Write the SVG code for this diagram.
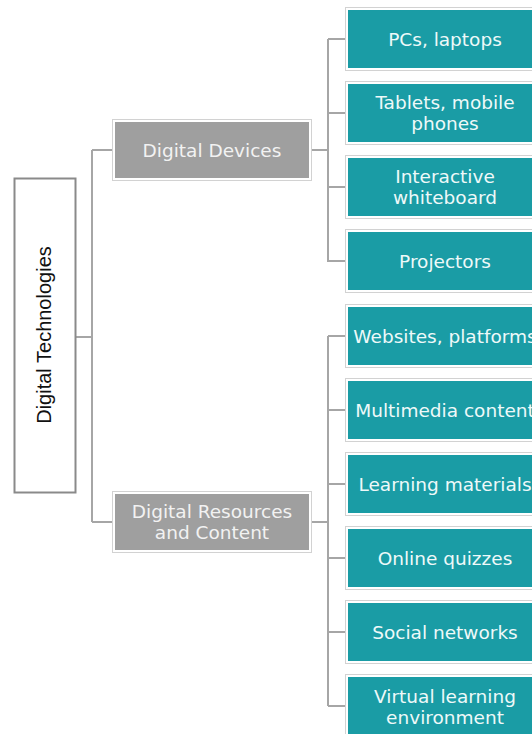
<svg xmlns="http://www.w3.org/2000/svg" width="532" height="734" viewBox="0 0 532 734">
  <style>
    .link { fill: none; stroke: #a6a6a6; stroke-width: 2; }
    .halo { fill: #ffffff; stroke: #d2d2d2; stroke-width: 1; }
    .grey { fill: #9f9f9f; }
    .teal { fill: #1a9ca5; }
    .lbl { font-family: "DejaVu Sans", Verdana, sans-serif; font-size: 18.5px; text-anchor: middle; dominant-baseline: central; }
    .lbl-g { fill: #f2f2f2; }
    .lbl-t { fill: #eef9f9; }
    .root-lbl { font-family: "Liberation Sans", Arial, sans-serif; font-size: 20px; fill: #111111; text-anchor: middle; }
  </style>

  <!-- connectors -->
  <g id="connectors">
    <path class="link" d="M76 337 H92 M92 150 V522 M92 150 H113 M92 522 H113"/>
    <path class="link" d="M311 150 H328 M328 39 V262 M328 39 H345 M328 113 H345 M328 187 H345 M328 261 H345"/>
    <path class="link" d="M311 522 H328 M328 336 V706 M328 336 H345 M328 410 H345 M328 484 H345 M328 558 H345 M328 632 H345 M328 706 H345"/>
  </g>

  <!-- root -->
  <g id="digital-technologies">
    <rect x="14.5" y="178.5" width="61" height="314" fill="#ffffff" stroke="#8a8a8a" stroke-width="2"/>
    <text class="root-lbl" transform="translate(51 335) rotate(-90)">Digital Technologies</text>
  </g>

  <!-- second level -->
  <g id="digital-devices">
    <rect class="halo" x="112.5" y="119.5" width="199" height="61"/>
    <rect class="grey" x="115" y="122" width="194" height="56"/>
    <text class="lbl lbl-g" x="212" y="150">Digital Devices</text>
  </g>
  <g id="digital-resources">
    <rect class="halo" x="112.5" y="491.5" width="199" height="61"/>
    <rect class="grey" x="115" y="494" width="194" height="56"/>
    <text class="lbl lbl-g" x="212" y="511.5">Digital Resources</text>
    <text class="lbl lbl-g" x="212" y="532.5">and Content</text>
  </g>

  <!-- devices -->
  <g id="pcs-laptops">
    <rect class="halo" x="345.5" y="7.5" width="200" height="63"/>
    <rect class="teal" x="348" y="10" width="195" height="58"/>
    <text class="lbl lbl-t" x="445" y="39">PCs, laptops</text>
  </g>
  <g id="tablets-phones">
    <rect class="halo" x="345.5" y="81.5" width="200" height="63"/>
    <rect class="teal" x="348" y="84" width="195" height="58"/>
    <text class="lbl lbl-t" x="445" y="102.5">Tablets, mobile</text>
    <text class="lbl lbl-t" x="445" y="123.5">phones</text>
  </g>
  <g id="interactive-whiteboard">
    <rect class="halo" x="345.5" y="155.5" width="200" height="63"/>
    <rect class="teal" x="348" y="158" width="195" height="58"/>
    <text class="lbl lbl-t" x="445" y="176.5">Interactive</text>
    <text class="lbl lbl-t" x="445" y="197.5">whiteboard</text>
  </g>
  <g id="projectors">
    <rect class="halo" x="345.5" y="229.5" width="200" height="63"/>
    <rect class="teal" x="348" y="232" width="195" height="58"/>
    <text class="lbl lbl-t" x="445" y="261">Projectors</text>
  </g>

  <!-- resources and content -->
  <g id="websites-platforms">
    <rect class="halo" x="345.5" y="304.5" width="200" height="63"/>
    <rect class="teal" x="348" y="307" width="195" height="58"/>
    <text class="lbl lbl-t" x="445" y="336">Websites, platforms</text>
  </g>
  <g id="multimedia-content">
    <rect class="halo" x="345.5" y="378.5" width="200" height="63"/>
    <rect class="teal" x="348" y="381" width="195" height="58"/>
    <text class="lbl lbl-t" x="445" y="410">Multimedia content</text>
  </g>
  <g id="learning-materials">
    <rect class="halo" x="345.5" y="452.5" width="200" height="63"/>
    <rect class="teal" x="348" y="455" width="195" height="58"/>
    <text class="lbl lbl-t" x="445" y="484">Learning materials</text>
  </g>
  <g id="online-quizzes">
    <rect class="halo" x="345.5" y="526.5" width="200" height="63"/>
    <rect class="teal" x="348" y="529" width="195" height="58"/>
    <text class="lbl lbl-t" x="445" y="558">Online quizzes</text>
  </g>
  <g id="social-networks">
    <rect class="halo" x="345.5" y="600.5" width="200" height="63"/>
    <rect class="teal" x="348" y="603" width="195" height="58"/>
    <text class="lbl lbl-t" x="445" y="632">Social networks</text>
  </g>
  <g id="virtual-learning-environment">
    <rect class="halo" x="345.5" y="674.5" width="200" height="63"/>
    <rect class="teal" x="348" y="677" width="195" height="58"/>
    <text class="lbl lbl-t" x="445" y="696">Virtual learning</text>
    <text class="lbl lbl-t" x="445" y="717">environment</text>
  </g>
</svg>
